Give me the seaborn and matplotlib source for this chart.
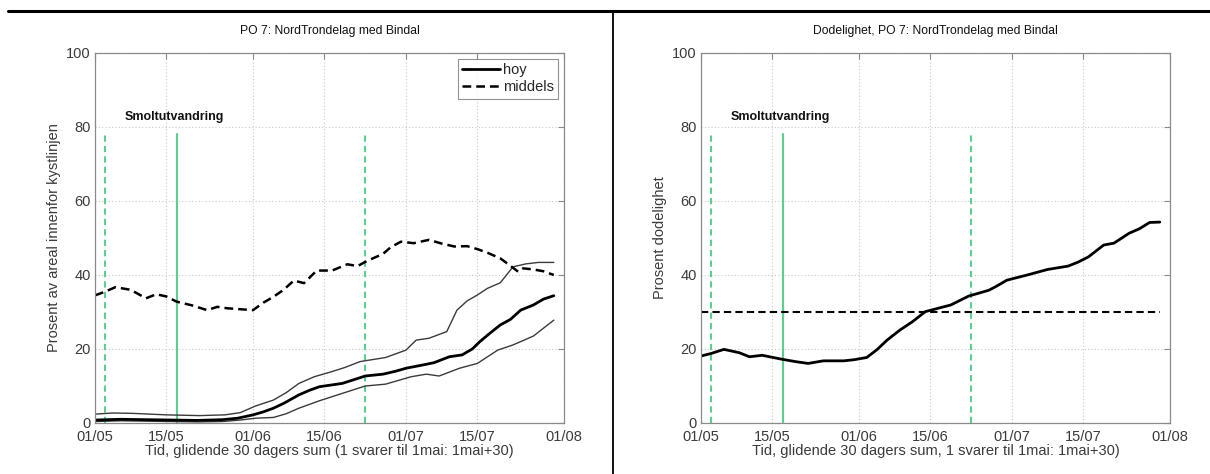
import numpy as np
import pandas as pd
import matplotlib
matplotlib.use("Agg")
import matplotlib.pyplot as plt
import seaborn as sns

# ---------------- data ----------------
tick_days = [0, 14, 31, 45, 61, 75, 92]
tick_labels = ["01/05", "15/05", "01/06", "15/06", "01/07", "15/07", "01/08"]

middels_day = [0, 2, 4, 7, 10, 12, 14, 16, 19, 22, 24, 26, 28, 31, 33, 35, 37, 39, 41,
               43.5, 46.5, 49.5, 51.5, 53.5, 56.5, 58, 60, 62.5, 65.5, 68, 70.5, 73, 75,
               77, 79.5, 81, 83, 84, 86, 88, 90]
middels = [34.5, 35.5, 36.7, 36.0, 33.7, 34.8, 34.2, 32.8, 31.8, 30.5, 31.4, 31.0, 30.8,
           30.5, 32.5, 34.1, 36.0, 38.5, 37.8, 41.2, 41.2, 42.9, 42.4, 43.9, 45.7, 47.5,
           49.0, 48.6, 49.5, 48.5, 47.7, 47.8, 47.0, 46.0, 44.5, 43.0, 40.9, 41.8, 41.5,
           41.0, 40.0]

hoy_day = [0, 5, 10, 15, 20, 25, 28, 31, 33, 35, 37, 40, 42, 44, 46, 48.5, 51, 53, 56.5,
           59, 61, 64, 66.5, 69.5, 72, 74, 75.5, 77.5, 79.5, 81.5, 83.5, 86, 88, 90]
hoy = [0.8, 1.0, 0.9, 0.8, 0.7, 0.9, 1.3, 2.2, 3.0, 4.0, 5.3, 7.6, 8.8, 9.8, 10.2, 10.7,
       11.8, 12.7, 13.2, 14.0, 14.8, 15.6, 16.3, 17.9, 18.4, 20.0, 22.0, 24.3, 26.5,
       28.0, 30.5, 31.9, 33.5, 34.4]

hoy_upper_day = [0, 3.5, 7.5, 14, 20.5, 25.5, 28.5, 31.5, 35, 37.5, 40, 43, 46.5, 49, 52,
                 57, 61, 63, 65.5, 69, 71, 73, 75, 77, 79.5, 82, 84.5, 87, 90]
hoy_upper = [2.4, 2.7, 2.6, 2.2, 2.0, 2.2, 2.8, 4.6, 6.2, 8.2, 10.7, 12.5, 13.9, 15.0,
             16.6, 17.7, 19.7, 22.4, 22.9, 24.7, 30.5, 33.0, 34.6, 36.4, 37.9, 42.2,
             43.0, 43.4, 43.4]

hoy_lower_day = [0, 5, 10, 15, 20, 25, 28.5, 31.5, 35, 37.5, 40, 44, 48.5, 53, 57, 62,
                 65, 67.5, 71.5, 75, 79, 82, 86, 90]
hoy_lower = [0.4, 0.6, 0.5, 0.4, 0.3, 0.4, 0.8, 1.3, 1.5, 2.5, 4.0, 6.0, 8.0, 10.0, 10.5,
             12.5, 13.2, 12.7, 14.8, 16.1, 19.7, 21.1, 23.5, 27.8]

dod_day = [0, 2, 4.5, 7.5, 9.5, 12, 16, 18.5, 21, 24, 28, 30, 32.5, 34.5, 36.5, 39, 41.5,
           44, 46.5, 49, 52.5, 56.5, 58, 60, 62, 64, 68, 72, 74, 76, 79, 81, 84, 86, 88, 90]
dod = [18.1, 18.8, 19.9, 19.0, 17.9, 18.3, 17.2, 16.6, 16.1, 16.8, 16.8, 17.1, 17.7,
       19.8, 22.4, 25.1, 27.4, 30.1, 31.0, 31.9, 34.3, 35.9, 37.0, 38.6, 39.3, 40.0,
       41.5, 42.4, 43.5, 44.9, 48.1, 48.6, 51.3, 52.5, 54.2, 54.3]

terskel = 30
terskel_day = [0, 90]

smolt_days = [2, 16, 53]
smolt_styles = ["--", "-", "--"]
smolt_top = 78
smolt_label = "Smoltutvandring"

title_left = "PO 7: NordTrondelag med Bindal"
title_right = "Dodelighet, PO 7: NordTrondelag med Bindal"
xlabel_left = "Tid, glidende 30 dagers sum (1 svarer til 1mai: 1mai+30)"
xlabel_right = "Tid, glidende 30 dagers sum, 1 svarer til 1mai: 1mai+30)"
ylabel_left = "Prosent av areal innenfor kystlinjen"
ylabel_right = "Prosent dodelighet"

# ---------------- style ----------------
sns.set_style("white")
plt.rcParams['font.family'] = ['Liberation Sans', 'DejaVu Sans']
GREEN = "#5ccf8e"
TXT = "#3a3a3a"

fig = plt.figure(figsize=(12.1, 4.74), dpi=100)
axL = fig.add_axes([95/1210, 51/474, 469/1210, 370/474])
axR = fig.add_axes([701/1210, 51/474, 469/1210, 370/474])

def df(x, y):
    return pd.DataFrame({"x": x, "y": y})

def style_axes(ax, title, xlabel, ylabel):
    ax.set_xlim(0, 92)
    ax.set_ylim(0, 100)
    ax.set_xticks(tick_days)
    ax.set_xticklabels(tick_labels)
    ax.set_yticks([0, 20, 40, 60, 80, 100])
    ax.grid(True, linestyle=(0, (1, 2)), color="#c8c8c8", linewidth=0.8)
    for s in ax.spines.values():
        s.set_visible(True)
        s.set_color("#8a8a8a")
        s.set_linewidth(0.9)
    ax.tick_params(direction="in", length=4, width=0.8, color="#8a8a8a",
                   top=True, right=True, labelsize=10.5, labelcolor=TXT, pad=3)
    ax.tick_params(axis="x", pad=5)
    ax.set_title(title, fontsize=8.7, pad=14, color="#111111")
    ax.set_xlabel(xlabel, fontsize=10.5, color=TXT, labelpad=0)
    ax.set_ylabel(ylabel, fontsize=10.5, color=TXT, labelpad=4)
    for d, ls in zip(smolt_days, smolt_styles):
        ax.plot([d, d], [0, smolt_top], color=GREEN, linestyle=ls,
                linewidth=1.5, dashes=(3, 2) if ls == "--" else (None, None))
    ax.text(5.8, 81, smolt_label, fontsize=9, fontweight="bold", color="#111111",
            ha="left", va="bottom")

# left panel
style_axes(axL, title_left, xlabel_left, ylabel_left)
sns.lineplot(data=df(hoy_upper_day, hoy_upper), x="x", y="y", ax=axL,
             color="#3a3a3a", linewidth=1.0)
sns.lineplot(data=df(hoy_lower_day, hoy_lower), x="x", y="y", ax=axL,
             color="#3a3a3a", linewidth=1.0)
sns.lineplot(data=df(hoy_day, hoy), x="x", y="y", ax=axL,
             color="black", linewidth=2.0, label="hoy")
sns.lineplot(data=df(middels_day, middels), x="x", y="y", ax=axL,
             color="black", linewidth=1.8, label="middels")
axL.lines[-1].set_dashes((3.5, 2))
leg = axL.legend(loc="upper right", fontsize=10.5, frameon=True, fancybox=False,
                 handlelength=2.6, handletextpad=0.2, borderpad=0.3,
                 labelspacing=0.2, borderaxespad=0.4)
leg.get_frame().set_edgecolor("#777777")
leg.get_frame().set_linewidth(0.8)
axL.set_xlabel(xlabel_left)
axL.set_ylabel(ylabel_left)

# right panel
style_axes(axR, title_right, xlabel_right, ylabel_right)
sns.lineplot(data=df(terskel_day, [terskel] * len(terskel_day)), x="x", y="y", ax=axR,
             color="black", linewidth=1.5)
axR.lines[-1].set_dashes((3.5, 2))
sns.lineplot(data=df(dod_day, dod), x="x", y="y", ax=axR,
             color="black", linewidth=2.0)
axR.set_xlabel(xlabel_right)
axR.set_ylabel(ylabel_right)

# table-like frame lines
fig.add_artist(plt.Line2D([8/1210, 1], [1 - 11/474, 1 - 11/474], color="black",
                          linewidth=2.2, transform=fig.transFigure))
fig.add_artist(plt.Line2D([613/1210, 613/1210], [0, 1 - 11/474], color="black",
                          linewidth=1.3, transform=fig.transFigure))

fig.savefig("out.png", dpi=100)
